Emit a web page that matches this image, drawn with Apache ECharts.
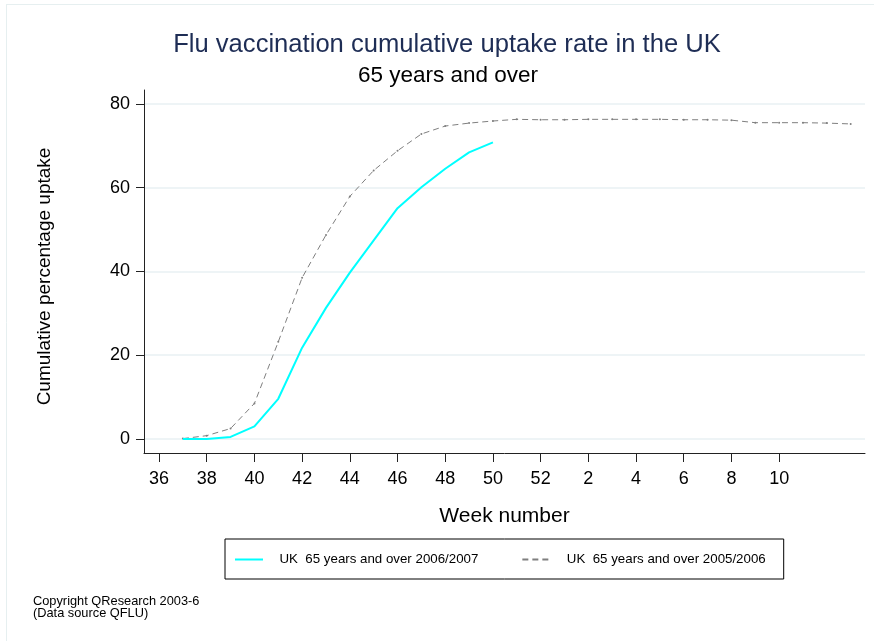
<!DOCTYPE html>
<html>
<head>
<meta charset="utf-8">
<script src="https://cdn.jsdelivr.net/npm/echarts@6/dist/echarts.min.js"></script>
<style>
html,body{margin:0;padding:0;background:#fff;}
#chart{width:874px;height:641px;}
</style>
</head>
<body>
<div id="chart"></div>
<script>
// Week numbers (season runs from week 37 into the following year)
const weeks2006 = [37, 38, 39, 40, 41, 42, 43, 44, 45, 46, 47, 48, 49, 50];
const uptake2006 = [0.0, 0.0, 0.5, 3.0, 9.6, 21.8, 31.3, 39.7, 47.4, 55.1, 60.1, 64.5, 68.4, 70.8];

const weeks2005 = [37, 38, 39, 40, 41, 42, 43, 44, 45, 46, 47, 48, 49, 50, 51, 52,
                   1, 2, 3, 4, 5, 6, 7, 8, 9, 10, 11, 12, 13];
const uptake2005 = [0.1, 0.8, 2.5, 8.5, 23.2, 38.5, 48.7, 57.9, 64.1, 68.8, 72.8, 74.7, 75.4, 75.9, 76.3, 76.2,
                    76.2, 76.3, 76.3, 76.3, 76.3, 76.2, 76.2, 76.1, 75.5, 75.5, 75.5, 75.4, 75.2];

const xTickWeeks = [36, 38, 40, 42, 44, 46, 48, 50, 52, 2, 4, 6, 8, 10];
const yTicks = [0, 20, 40, 60, 80];

const seriesName2006 = 'UK  65 years and over 2006/2007';
const seriesName2005 = 'UK  65 years and over 2005/2006';

// Map week number onto a continuous season index (weeks of the new year follow week 52)
function seq(w) { return w < 30 ? w + 52 : w; }
function label(v) { return v > 52 ? String(v - 52) : String(v); }

const data2006 = weeks2006.map((w, i) => [seq(w), uptake2006[i]]);
const data2005 = weeks2005.map((w, i) => [seq(w), uptake2005[i]]);
const xTicks = xTickWeeks.map(seq);

const FONT = '"Liberation Sans", Arial, Helvetica, sans-serif';

const chart = echarts.init(document.getElementById('chart'), null, {renderer: 'canvas'});
chart.setOption({
  backgroundColor: '#ffffff',
  animation: false,
  textStyle: {fontFamily: FONT},
  title: [
    {
      text: 'Flu vaccination cumulative uptake rate in the UK',
      left: 442, top: 27, textAlign: 'center',
      textStyle: {fontFamily: FONT, fontSize: 25.6, fontWeight: 'normal', color: '#1e2d55'}
    },
    {
      text: '65 years and over',
      left: 443, top: 59, textAlign: 'center',
      textStyle: {fontFamily: FONT, fontSize: 22.5, fontWeight: 'normal', color: '#000'}
    }
  ],
  grid: {left: 144, right: 9, top: 90, bottom: 188, containLabel: false},
  xAxis: {
    type: 'value',
    min: 35.37, max: 65.6,
    name: 'Week number',
    nameLocation: 'middle',
    nameGap: 53,
    nameTextStyle: {fontFamily: FONT, fontSize: 21, color: '#000'},
    axisLine: {show: true, onZero: false, lineStyle: {color: '#222', width: 1}},
    axisTick: {show: true, length: 9, customValues: xTicks, lineStyle: {color: '#222', width: 1}},
    axisLabel: {customValues: xTicks, formatter: label, fontFamily: FONT, fontSize: 18, color: '#000', margin: 17},
    splitLine: {show: false}
  },
  yAxis: {
    type: 'value',
    min: -3.34, max: 83.3,
    name: 'Cumulative percentage uptake',
    nameLocation: 'middle',
    nameGap: 90,
    nameRotate: 90,
    nameTextStyle: {fontFamily: FONT, fontSize: 19, color: '#000', padding: [0, 10, 0, 0]},
    axisLine: {show: true, onZero: false, lineStyle: {color: '#222', width: 1}},
    axisTick: {show: true, length: 8, customValues: yTicks, lineStyle: {color: '#222', width: 1}},
    axisLabel: {customValues: yTicks, fontFamily: FONT, fontSize: 18, color: '#000', margin: 14},
    splitLine: {show: true, lineStyle: {color: '#e8f0f3', width: 1.5}}
  },
  legend: {
    left: 225, top: 539,
    padding: [14, 18, 13, 9],
    itemGap: 43,
    itemWidth: 28, itemHeight: 14,
    borderColor: '#000', borderWidth: 1, borderRadius: 0,
    itemStyle: {opacity: 0},
    textStyle: {fontFamily: FONT, fontSize: 13.3, color: '#000', padding: [0, 0, 0, 11.5]},
    data: [seriesName2006, seriesName2005]
  },
  series: [
    {
      name: seriesName2006,
      type: 'line',
      data: data2006,
      showSymbol: false,
      symbol: 'none',
      lineStyle: {color: '#00ffff', width: 2},
      itemStyle: {color: '#00ffff'},
      z: 3
    },
    {
      name: seriesName2005,
      type: 'line',
      data: data2005,
      symbol: 'circle',
      symbolSize: 2,
      lineStyle: {color: '#7f7f7f', width: 1, type: [6, 4]},
      itemStyle: {color: '#7f7f7f'},
      z: 2
    }
  ],
  graphic: [
    {type: 'line', shape: {x1: 6, y1: 4.5, x2: 874, y2: 4.5}, style: {stroke: '#e6eff0', lineWidth: 1}, silent: true},
    {type: 'line', shape: {x1: 6.5, y1: 4, x2: 6.5, y2: 641}, style: {stroke: '#e6eff0', lineWidth: 1}, silent: true},
    {
      type: 'text', left: 33, top: 595,
      style: {text: 'Copyright QResearch 2003-6\n(Data source QFLU)', font: '12.8px ' + FONT, lineHeight: 12, fill: '#000'}
    }
  ]
});
</script>
</body>
</html>
